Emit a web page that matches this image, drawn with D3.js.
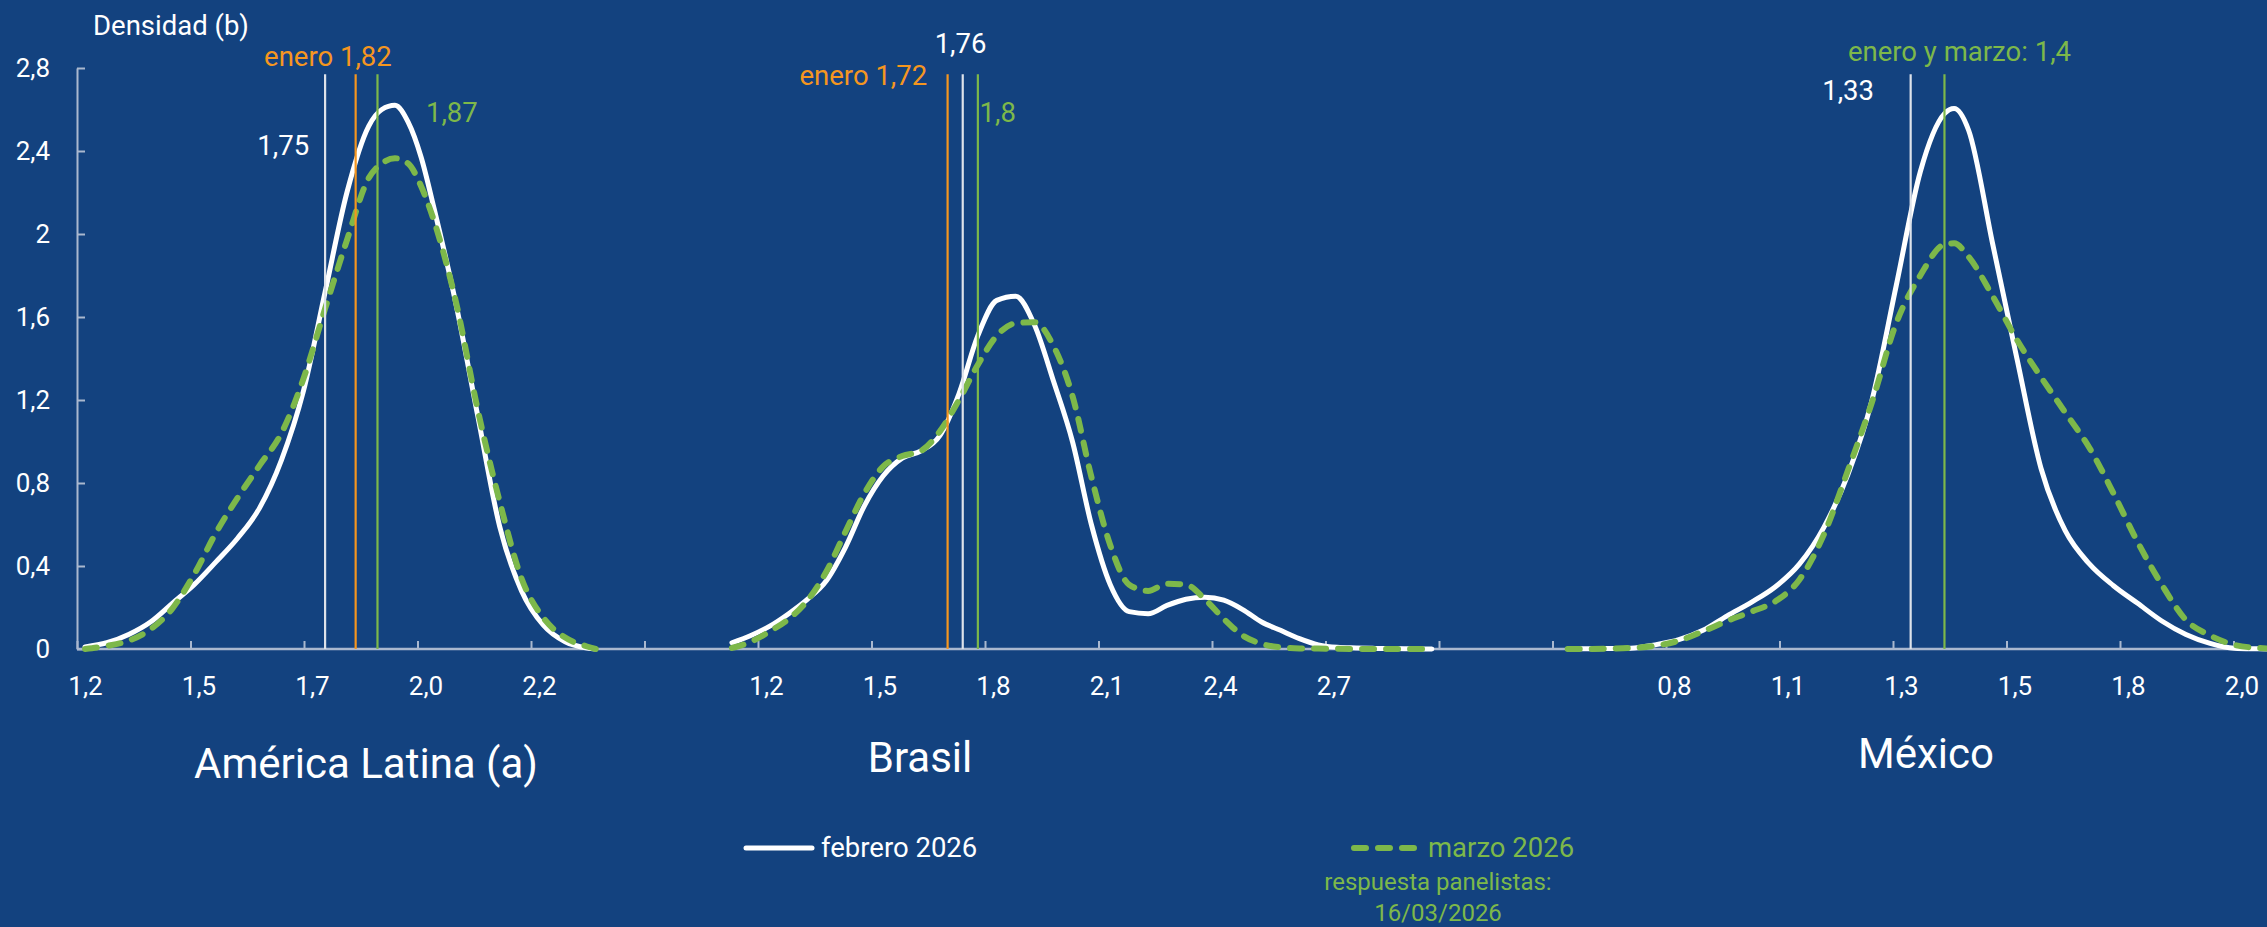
<!DOCTYPE html>
<html>
<head>
<meta charset="utf-8">
<script src="https://cdn.jsdelivr.net/npm/d3@7"></script>
<style>
html,body{margin:0;padding:0;background:#13427f;}
svg{display:block;}
text{font-family:Roboto,"Noto Sans",sans-serif;}
</style>
</head>
<body>
<svg id="chart" width="2267" height="927"></svg>
<script>
// ---------------- DATA ----------------
const yTickValues = [0, 0.4, 0.8, 1.2, 1.6, 2, 2.4, 2.8];
const yTickLabels = ["0", "0,4", "0,8", "1,2", "1,6", "2", "2,4", "2,8"];
const yTitle = "Densidad (b)";

const panelTitles = ["América Latina (a)", "Brasil", "México"];

// América Latina
const latamX   = [1.20,1.25,1.30,1.35,1.40,1.45,1.50,1.55,1.60,1.65,1.70,1.75,1.80,1.85,1.88,1.91,1.94,1.97,2.00,2.05,2.10,2.15,2.20,2.25,2.30,2.35,2.37];
const latamFeb = [0.01,0.03,0.07,0.13,0.22,0.31,0.42,0.535,0.68,0.91,1.24,1.72,2.20,2.52,2.60,2.62,2.54,2.37,2.12,1.66,1.12,0.59,0.28,0.115,0.035,0.005,0];
const latamMar = [0.0,0.015,0.04,0.095,0.195,0.36,0.56,0.73,0.885,1.04,1.30,1.64,1.97,2.27,2.34,2.365,2.34,2.23,2.06,1.67,1.15,0.71,0.34,0.15,0.055,0.012,0];
const latamTickValues = [1.2, 1.46, 1.72, 1.98, 2.24];
const latamTickLabels = ["1,2", "1,5", "1,7", "2,0", "2,2"];
const latamRefValues = [1.75, 1.82, 1.87];
const latamRefLabels = ["1,75", "enero 1,82", "1,87"];
const latamRefSeries = ["feb", "ene", "mar"];

// Brasil
const brasilX   = [1.15,1.20,1.25,1.30,1.35,1.40,1.45,1.50,1.55,1.60,1.65,1.70,1.75,1.80,1.85,1.90,1.95,2.00,2.05,2.10,2.15,2.20,2.25,2.30,2.35,2.40,2.45,2.50,2.55,2.60,2.65,2.70,2.75,2.80,2.85,2.90,2.95,3.00];
const brasilFeb = [0.03,0.065,0.11,0.17,0.24,0.33,0.49,0.69,0.835,0.92,0.955,1.03,1.23,1.51,1.68,1.70,1.56,1.29,1.0,0.60,0.31,0.18,0.17,0.21,0.24,0.25,0.235,0.19,0.13,0.09,0.05,0.02,0.008,0.005,0.003,0.002,0.001,0];
const brasilMar = [0.005,0.035,0.085,0.145,0.235,0.375,0.565,0.75,0.88,0.93,0.955,1.05,1.20,1.37,1.51,1.57,1.575,1.46,1.22,0.83,0.50,0.31,0.28,0.315,0.31,0.24,0.145,0.065,0.025,0.008,0.003,0.002,0.001,0,0,0,0,0];
const brasilTickValues = [1.24, 1.54, 1.84, 2.14, 2.44, 2.74];
const brasilTickLabels = ["1,2", "1,5", "1,8", "2,1", "2,4", "2,7"];
const brasilRefValues = [1.72, 1.76, 1.80];
const brasilRefLabels = ["enero 1,72", "1,76", "1,8"];
const brasilRefSeries = ["ene", "feb", "mar"];

// México
const mexicoX   = [0.62,0.65,0.70,0.75,0.80,0.85,0.90,0.95,1.00,1.05,1.10,1.15,1.20,1.25,1.30,1.35,1.40,1.42,1.45,1.50,1.55,1.60,1.65,1.70,1.75,1.80,1.85,1.90,1.95,2.00,2.05,2.07];
const mexicoFeb = [0,0.001,0.002,0.004,0.02,0.045,0.09,0.16,0.225,0.30,0.41,0.585,0.84,1.20,1.75,2.30,2.58,2.605,2.50,1.95,1.40,0.87,0.57,0.41,0.305,0.22,0.135,0.07,0.027,0.004,0.001,0];
const mexicoMar = [0,0,0.002,0.005,0.015,0.04,0.085,0.135,0.18,0.23,0.335,0.55,0.86,1.19,1.57,1.80,1.95,1.955,1.89,1.70,1.49,1.31,1.14,0.97,0.75,0.515,0.31,0.14,0.065,0.02,0.005,0.002];
const mexicoTickValues = [0.84, 1.075, 1.31, 1.545, 1.78, 2.015];
const mexicoTickLabels = ["0,8", "1,1", "1,3", "1,5", "1,8", "2,0"];
const mexicoRefValues = [1.33, 1.40];
const mexicoRefLabels = ["1,33", "enero y marzo: 1,4"];
const mexicoRefSeries = ["feb", "mar"];

const legendLabels = ["febrero 2026", "marzo 2026"];
const noteLines = ["respuesta panelistas:", "16/03/2026"];

// ---------------- STYLE / LAYOUT ----------------
const W = 2267, H = 927;
const BG = "#13427f";
const AXIS_COLOR = "#aab8cf";
const WHITE = "#ffffff";
const GREEN = "#7db84a";
const ORANGE = "#f5961f";
const REF_WHITE = "#dde2ea";
const FONT = "Roboto, 'Noto Sans', sans-serif";
const ANN_SIZE = 27.5;

const AXIS_Y = 649, TOP_Y = 68;
const LABEL_X0 = 85, SLOT_W = 113.5, TICK_SHIFT = 8;
const N_SLOTS = 20;
const REF_TOP = 2.77;

const refColor = {feb: REF_WHITE, ene: ORANGE, mar: GREEN};
const refTextColor = {feb: WHITE, ene: ORANGE, mar: GREEN};

const panels = [
  {title: panelTitles[0], titleX: 366, titleY: 778, slot0: 0,
   xs: latamX, feb: latamFeb, mar: latamMar,
   tv: latamTickValues, tl: latamTickLabels,
   rv: latamRefValues, rl: latamRefLabels, rs: latamRefSeries,
   rlay: [{a: "end", dx: -16, y: 155}, {a: "start", dx: -91.6, y: 66}, {a: "start", dx: 48.5, y: 122}]},
  {title: panelTitles[1], titleX: 920, titleY: 772, slot0: 6,
   xs: brasilX, feb: brasilFeb, mar: brasilMar,
   tv: brasilTickValues, tl: brasilTickLabels,
   rv: brasilRefValues, rl: brasilRefLabels, rs: brasilRefSeries,
   rlay: [{a: "end", dx: -20.4, y: 85}, {a: "middle", dx: -2.2, y: 53}, {a: "start", dx: 1.7, y: 122}]},
  {title: panelTitles[2], titleX: 1926, titleY: 768, slot0: 14,
   xs: mexicoX, feb: mexicoFeb, mar: mexicoMar,
   tv: mexicoTickValues, tl: mexicoTickLabels,
   rv: mexicoRefValues, rl: mexicoRefLabels, rs: mexicoRefSeries,
   rlay: [{a: "end", dx: -36.7, y: 100}, {a: "start", dx: -96.5, y: 61}]}
];

// ---------------- DRAW ----------------
const svg = d3.select("#chart");
svg.append("rect").attr("width", W).attr("height", H).attr("fill", BG);

const y = d3.scaleLinear().domain([0, 2.8]).range([AXIS_Y, TOP_Y]);
const slot = d3.scaleLinear().domain([0, 1]).range([LABEL_X0, LABEL_X0 + SLOT_W]);
const tickSlot = d3.scaleLinear().domain([0, 1]).range([LABEL_X0 - TICK_SHIFT, LABEL_X0 - TICK_SHIFT + SLOT_W]);
const axisX = tickSlot(0);

// y axis
const gy = svg.append("g").attr("transform", `translate(${axisX},0)`)
  .call(d3.axisLeft(y).tickValues(yTickValues).tickFormat((d, i) => yTickLabels[i])
    .tickSizeInner(-8).tickSizeOuter(0).tickPadding(27));
gy.select(".domain").attr("stroke", AXIS_COLOR).attr("stroke-width", 2);
gy.selectAll(".tick line").attr("stroke", AXIS_COLOR).attr("stroke-width", 2);
gy.selectAll(".tick text").attr("fill", WHITE).attr("font-size", 26).attr("font-family", FONT);

svg.append("text").attr("x", 93).attr("y", 35).attr("fill", WHITE)
  .attr("font-size", ANN_SIZE).attr("font-family", FONT).text(yTitle);

// x category axis (tick marks)
const gx = svg.append("g").attr("transform", `translate(0,${AXIS_Y})`)
  .call(d3.axisBottom(tickSlot).tickValues(d3.range(0, N_SLOTS)).tickFormat("")
    .tickSizeInner(-8).tickSizeOuter(0));
gx.select(".domain").remove();
gx.selectAll(".tick line").attr("stroke", AXIS_COLOR).attr("stroke-width", 2);
svg.append("line").attr("x1", axisX).attr("x2", W).attr("y1", AXIS_Y).attr("y2", AXIS_Y)
  .attr("stroke", AXIS_COLOR).attr("stroke-width", 2.5);

panels.forEach(p => {
  const n = p.tv.length;
  const x = d3.scaleLinear().domain([p.tv[0], p.tv[n - 1]])
    .range([slot(p.slot0), slot(p.slot0 + n - 1)]);

  // tick labels
  const gl = svg.append("g").attr("transform", `translate(0,${AXIS_Y})`)
    .call(d3.axisBottom(x).tickValues(p.tv).tickFormat((d, i) => p.tl[i]).tickSize(0).tickPadding(28));
  gl.select(".domain").remove();
  gl.selectAll(".tick text").attr("fill", WHITE).attr("font-size", 26).attr("font-family", FONT);

  // panel title
  svg.append("text").attr("x", p.titleX).attr("y", p.titleY).attr("text-anchor", "middle")
    .attr("fill", WHITE).attr("font-size", 42).attr("font-family", FONT).text(p.title);

  const line = d3.line().x(d => x(d[0])).y(d => y(d[1])).curve(d3.curveMonotoneX);
  const febData = p.xs.map((v, i) => [v, p.feb[i]]);
  const marData = p.xs.map((v, i) => [v, p.mar[i]]);

  svg.append("path").datum(febData).attr("d", line)
    .attr("fill", "none").attr("stroke", WHITE).attr("stroke-width", 5)
    .attr("stroke-linejoin", "round").attr("stroke-linecap", "round");
  svg.append("path").datum(marData).attr("d", line)
    .attr("fill", "none").attr("stroke", GREEN).attr("stroke-width", 6)
    .attr("stroke-dasharray", "12 12").attr("stroke-linecap", "round").attr("stroke-linejoin", "round");

  // reference lines
  p.rv.forEach((v, i) => {
    const s = p.rs[i];
    svg.append("line").attr("x1", x(v)).attr("x2", x(v)).attr("y1", y(REF_TOP)).attr("y2", y(0))
      .attr("stroke", refColor[s]).attr("stroke-width", 2.2);
    const L = p.rlay[i];
    svg.append("text").attr("x", x(v) + L.dx).attr("y", L.y).attr("text-anchor", L.a)
      .attr("fill", refTextColor[s]).attr("font-size", ANN_SIZE).attr("font-family", FONT).text(p.rl[i]);
  });
});

// legend
const lg = svg.append("g");
lg.append("line").attr("x1", 746).attr("x2", 812).attr("y1", 848).attr("y2", 848)
  .attr("stroke", WHITE).attr("stroke-width", 5).attr("stroke-linecap", "round");
lg.append("text").attr("x", 821).attr("y", 857).attr("fill", WHITE)
  .attr("font-size", ANN_SIZE).attr("font-family", FONT).text(legendLabels[0]);
lg.append("line").attr("x1", 1354).attr("x2", 1414).attr("y1", 848).attr("y2", 848)
  .attr("stroke", GREEN).attr("stroke-width", 6).attr("stroke-dasharray", "12 12").attr("stroke-linecap", "round");
lg.append("text").attr("x", 1428).attr("y", 857).attr("fill", GREEN)
  .attr("font-size", ANN_SIZE).attr("font-family", FONT).text(legendLabels[1]);
noteLines.forEach((t, i) => {
  lg.append("text").attr("x", 1438).attr("y", 890 + i * 31).attr("text-anchor", "middle")
    .attr("fill", GREEN).attr("font-size", 24).attr("font-family", FONT).text(t);
});
</script>
</body>
</html>
